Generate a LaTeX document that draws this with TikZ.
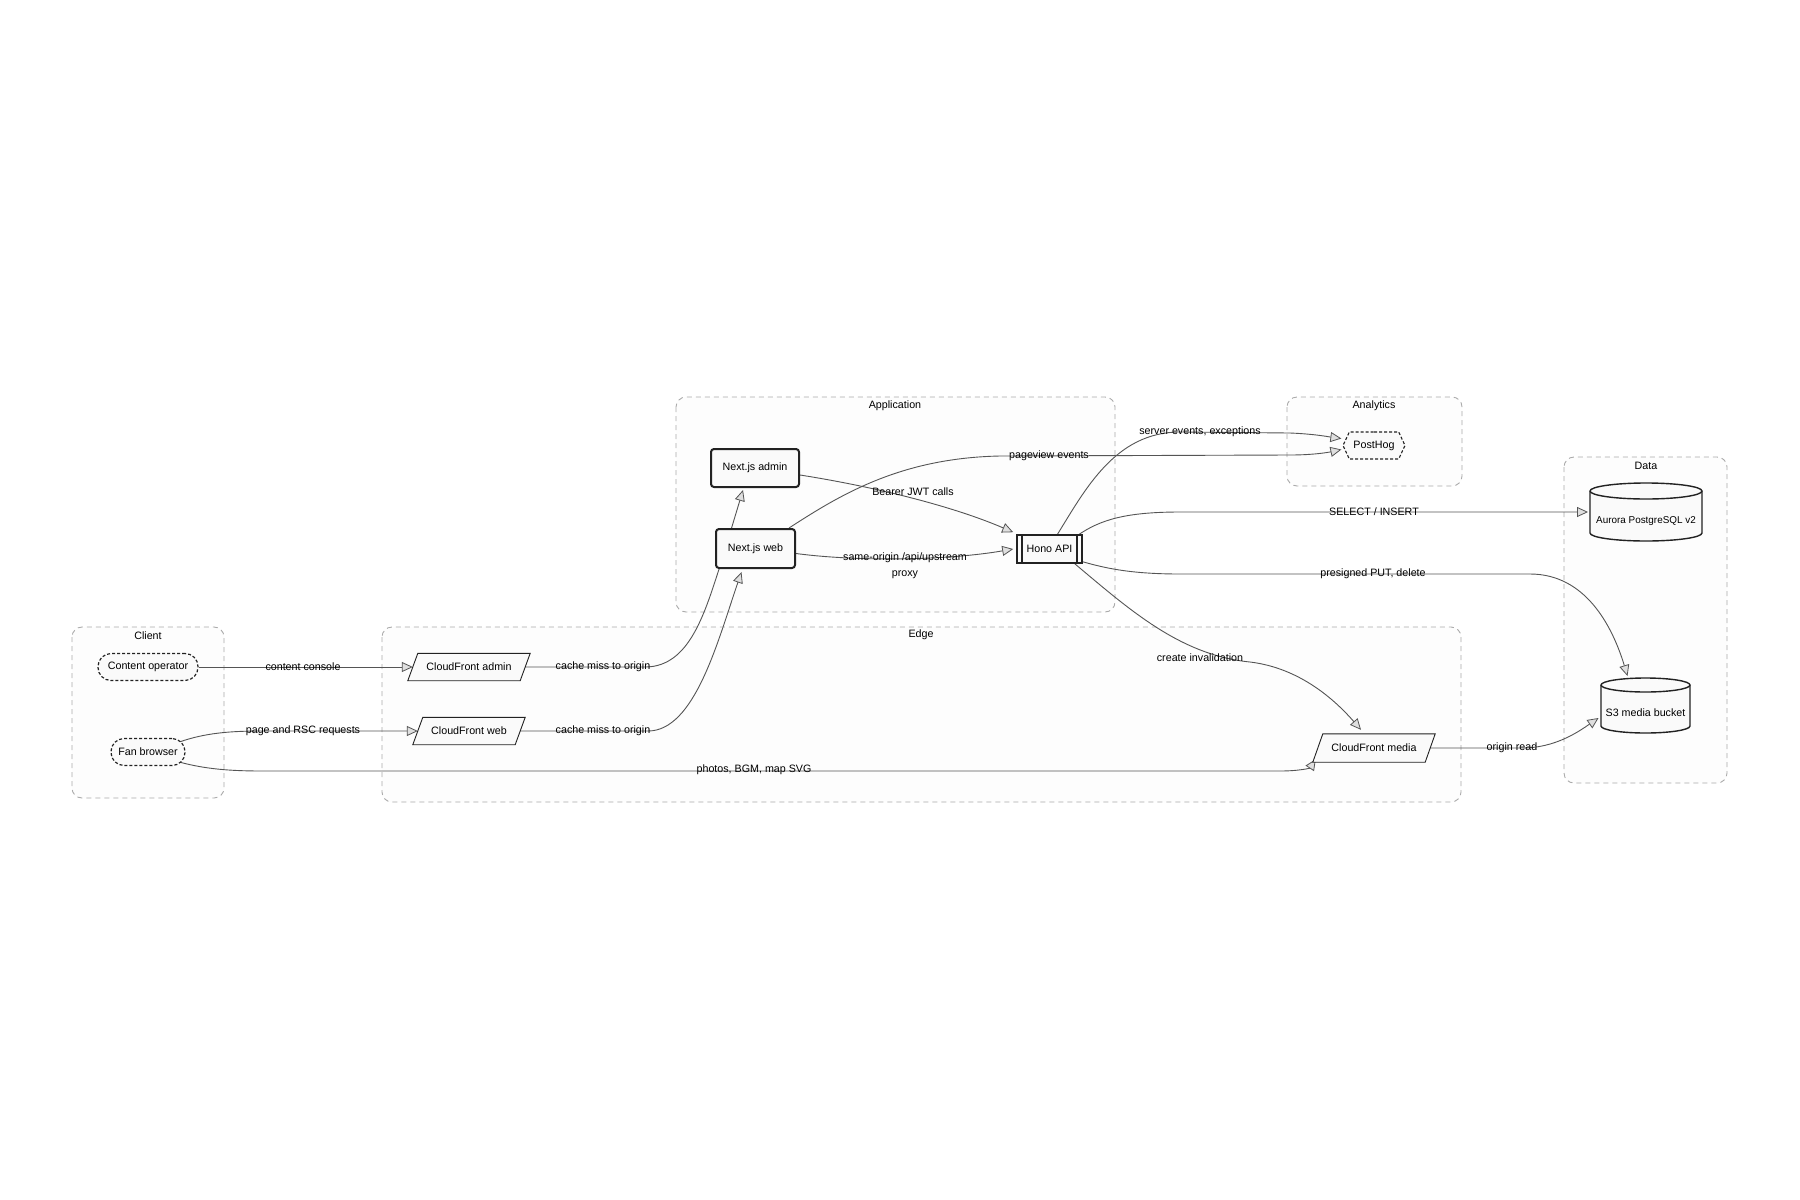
\documentclass[tikz,border=0pt]{standalone}
\usepackage{fontspec}
\setmainfont{Liberation Sans}
\usetikzlibrary{arrows.meta,shapes.geometric,shapes.symbols,calc}
\pgfdeclarelayer{bg}
\pgfdeclarelayer{edges}
\pgfdeclarelayer{shapes}
\pgfsetlayers{bg,edges,shapes,main}
\definecolor{edgecol}{HTML}{555555}
\definecolor{nodefill}{HTML}{FAFAFA}
\definecolor{clusterfill}{HTML}{FDFDFD}
\definecolor{clusterdraw}{HTML}{AAAAAA}
\definecolor{nodedraw}{HTML}{222222}
\newcommand\mydbshape[5]{%
  \path[cyl] (#1-#3, #2-#4+#5) -- (#1-#3, #2+#4-#5)
    arc[start angle=180, end angle=360, x radius=#3pt, y radius=#5pt]
    -- (#1+#3, #2-#4+#5)
    arc[start angle=0, end angle=180, x radius=#3pt, y radius=#5pt] -- cycle;
  \draw[cyl, fill=none] (#1-#3, #2-#4+#5)
    arc[start angle=180, end angle=360, x radius=#3pt, y radius=#5pt];
}
\newcommand\myparashape[1]{%
  \path[parashape] ($(#1.south west)+(-5,0)$) -- ($(#1.north west)+(5,0)$)
    -- ($(#1.north east)+(5,0)$) -- ($(#1.south east)+(-5,0)$) -- cycle;
}
\begin{document}
\begin{tikzpicture}[x=1pt,y=-1pt,
  every node/.style={font=\fontsize{10.7}{12.8}\selectfont, text=black},
  cluster/.style={draw=clusterdraw, fill=clusterfill, dash pattern=on 5pt off 4pt, line width=0.9pt, rounded corners=10pt},
  clabel/.style={inner sep=0pt},
  base/.style={fill=nodefill, draw=nodedraw, inner sep=0pt, align=center},
  stadium/.style={base, rounded corners=13pt, dash pattern=on 3pt off 2pt, line width=1.2pt, minimum height=27pt},
  para/.style={inner sep=0pt, align=center, minimum height=27pt},
  parashape/.style={fill=nodefill, draw=nodedraw, line width=0.9pt},
  appbox/.style={base, rounded corners=3pt, line width=2pt},
  subr/.style={base, line width=1.6pt, minimum width=65pt, minimum height=28pt},
  hexa/.style={base, signal, signal to=west and east, signal pointer angle=130, dash pattern=on 3pt off 2pt, line width=1.1pt, minimum width=62pt, minimum height=27pt},
  dbhold/.style={inner sep=0pt, align=center},
  cyl/.style={fill=nodefill, draw=nodedraw, line width=1.4pt},
  edge/.style={draw=edgecol, line width=0.9pt, -{Triangle[length=11pt,width=10pt,fill=gray!25,line width=0.8pt]}},
  elabel/.style={inner sep=0pt, font=\fontsize{10.7}{16}\selectfont, align=center},
]
\useasboundingbox (0,0) rectangle (1800,1200);

% clusters
\begin{pgfonlayer}{bg}
\fill[white] (0,0) rectangle (1800,1200);
\draw[cluster] (72,627) rectangle (224,798);
\draw[cluster] (382,627) rectangle (1461,802);
\draw[cluster] (676,397) rectangle (1115,612);
\draw[cluster] (1287,397) rectangle (1462,486);
\draw[cluster] (1564,457) rectangle (1727,783);
\end{pgfonlayer}
\node[clabel] (lclient) at (148,636) {Client};
\node[clabel] (ledge) at (921,635) {Edge};
\node[clabel] (lapp) at (895,406) {Application};
\node[clabel] (lana) at (1374,406) {Analytics};
\node[clabel] (ldata) at (1646,466) {Data};

% nodes
\node[stadium, minimum width=100pt] (co) at (148,667) {Content operator};
\node[stadium, minimum width=74pt] (fan) at (148,752) {Fan browser};
\node[para, minimum width=112pt] (cfa) at (469,667) {CloudFront admin};
\node[para, minimum width=102pt] (cfw) at (469,731) {CloudFront web};
\node[para, minimum width=112pt, minimum height=28pt] (cfm) at (1374,748) {CloudFront media};
\begin{pgfonlayer}{shapes}
\myparashape{cfa}
\myparashape{cfw}
\myparashape{cfm}
\mydbshape{1646}{512}{56}{29}{8}
\mydbshape{1645.5}{705.5}{44.5}{27.5}{7}
\end{pgfonlayer}
\node[appbox, minimum width=88pt, minimum height=38pt] (nadm) at (755,468) {Next.js admin};
\node[appbox, minimum width=79pt, minimum height=39pt] (nweb) at (755.5,548.5) {Next.js web};
\node[subr] (hono) at (1049.5,549) {Hono API};
\draw[line width=1.6pt, draw=nodedraw] ($(hono.north west)+(6,0)$) -- ($(hono.south west)+(6,0)$);
\draw[line width=1.6pt, draw=nodedraw] ($(hono.north east)+(-6,0)$) -- ($(hono.south east)+(-6,0)$);
\node[hexa] (ph) at (1374,445.5) {PostHog};
\node[dbhold, font=\fontsize{9.9}{12}\selectfont] (aur) at (1646,521) {Aurora PostgreSQL v2};
\node[dbhold] (s3) at (1645.5,713) {S3 media bucket};

% edges
\begin{pgfonlayer}{edges}
\draw[edge] (co.east) -- (cfa.west);
\draw[edge] ($(fan.north east)+(-6,4)$) .. controls (205,733) and (230,731) .. (262,731) -- (cfw.west);
\draw[edge] ($(fan.south east)+(-6,-4)$) .. controls (205,769) and (230,771) .. (262,771) -- (1280,771) .. controls (1300,771) and (1310,768) .. ($(cfm.south west)+(-2,-3)$);
\draw[edge] (cfa.east) -- (645,667) .. controls (690,667) and (705,612) .. (721,563) -- ($(nadm.south)+(-12,2)$);
\draw[edge] (cfw.east) -- (648,731) .. controls (695,731) and (718,640) .. ($(nweb.south)+(-14,3)$);
\draw[edge] ($(nadm.east)+(0,7)$) .. controls (870,486) and (950,505) .. ($(hono.north west)+(-3,-2)$);
\draw[edge] ($(nweb.east)+(0,5)$) .. controls (860,562) and (950,560) .. ($(hono.west)+(-3,0)$);
\draw[edge] ($(nweb.north east)+(-7,0)$) .. controls (840,495) and (900,458) .. (1000,456) -- (1290,455) .. controls (1315,455) and (1330,452) .. ($(ph.west)+(-1,4)$);
\draw[edge] ($(hono.north)+(8,0)$) .. controls (1085,490) and (1115,432) .. (1180,432) -- (1290,433) .. controls (1315,434) and (1330,437) .. ($(ph.west)+(-1,-7)$);
\draw[edge] ($(hono.north east)+(-5,1)$) .. controls (1100,520) and (1125,512) .. (1180,512) -- ($(aur.center)+(-58,-9)$);
\draw[edge] ($(hono.south east)+(0,-2)$) .. controls (1105,568) and (1130,574) .. (1180,574) -- (1530,574) .. controls (1585,574) and (1612,625) .. ($(s3.center)+(-18,-37)$);
\draw[edge] ($(hono.south east)+(-8,0)$) .. controls (1130,610) and (1180,655) .. (1250,662) .. controls (1300,668) and (1335,700) .. ($(cfm.north)+(-13,-4)$);
\draw[edge] (cfm.east) -- (1522,748) .. controls (1555,748) and (1578,732) .. ($(s3.center)+(-47,5)$);
\end{pgfonlayer}

% edge labels
\node[elabel] (l1) at (303,667) {content console};
\node[elabel] (l2) at (303,731) {page and RSC requests};
\node[elabel] (l3) at (754,770) {photos, BGM, map SVG};
\node[elabel] (l4) at (603,667) {cache miss to origin};
\node[elabel] (l5) at (603,731) {cache miss to origin};
\node[elabel] (l6) at (913,492) {Bearer JWT calls};
\node[elabel] (l7) at (905,566) {same-origin /api/upstream\\proxy};
\node[elabel] (l8) at (1049,456) {pageview events};
\node[elabel] (l9) at (1200,432) {server events, exceptions};
\node[elabel] (l10) at (1374,512) {SELECT / INSERT};
\node[elabel] (l11) at (1373,574) {presigned PUT, delete};
\node[elabel] (l12) at (1200,658) {create invalidation};
\node[elabel] (l13) at (1512,748) {origin read};
\end{tikzpicture}
\end{document}
